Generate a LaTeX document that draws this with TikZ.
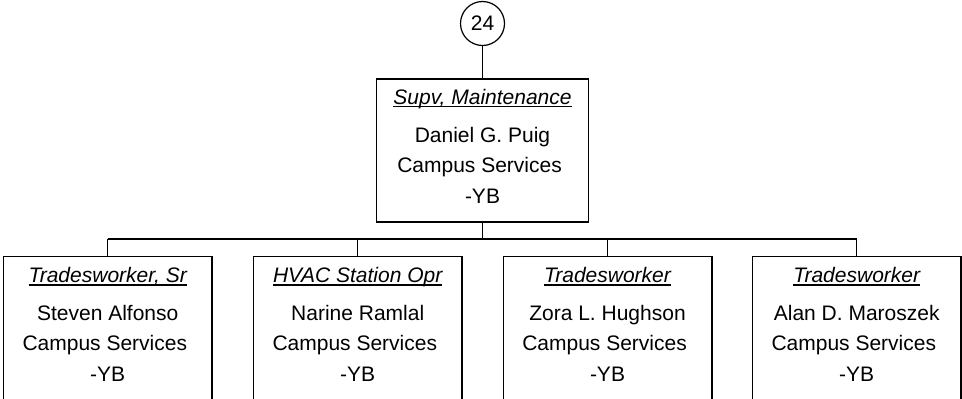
\documentclass[tikz,border=0pt]{standalone}
\usepackage{fontspec}
\setmainfont{Liberation Sans}
\newcommand{\ulttl}[1]{\setbox0\hbox{\itshape #1}\rlap{\rule[-3.2pt]{\wd0}{1.3pt}}\box0}
\begin{document}
\begin{tikzpicture}[x=1pt,y=-1pt,
  box/.style={draw,line width=1.5pt,rectangle,inner sep=0pt,minimum width=208.5pt},
  topbox/.style={draw,line width=1.5pt,rectangle,inner sep=0pt,minimum width=212pt,minimum height=143pt},
  bubble/.style={draw,line width=1.2pt,circle,inner sep=0pt,minimum size=44pt,font=\fontsize{21}{25}\selectfont},
  txt/.style={anchor=base,inner sep=0pt,font=\fontsize{21}{25}\selectfont},
  link/.style={line width=1.5pt}]
\useasboundingbox (0,0) rectangle (962,399);
\clip (0,0) rectangle (962,399);
\fill[white] (0,0) rectangle (962,399);
% top
\node[bubble] (c) at (482.5,23.5) {24};
\node[topbox] (top) at (482.5,150.5) {};
\node[txt] (tt) at (482.5,104) {\ulttl{Supv, Maintenance}};
\node[txt] (tn) at (482.5,142) {Daniel G. Puig};
\node[txt] (tc) at (482.5,172.5) {Campus Services\ \mbox{}};
\node[txt] (ty) at (482.5,203) {-YB};
\draw[link] (c) -- (top);
\coordinate (bus) at (482.5,239);
\draw[link] (top.south) -- (bus);
% children
\foreach \cx/\nm/\ti/\pe in {107.7/a/{Tradesworker, Sr}/{Steven Alfonso},
                             357.7/b/{HVAC Station Opr}/{Narine Ramlal},
                             607.5/d/{Tradesworker}/{Zora L. Hughson},
                             856.7/e/{Tradesworker}/{Alan D. Maroszek}}{
  \node[box,minimum height=200pt] (\nm) at (\cx,356.5) {};
  \node[txt] (\nm t) at (\cx,282.5) {\ulttl{\ti}};
  \node[txt] (\nm n) at (\cx,320) {\pe};
  \node[txt] (\nm c) at (\cx,350.5) {Campus Services\ \mbox{}};
  \node[txt] (\nm y) at (\cx,381) {-YB};
  \coordinate (\nm bus) at (\cx,239);
  \draw[link] (\nm bus) -- (\nm.north);
}
\draw[link] (abus) -- (ebus);
\end{tikzpicture}
\end{document}
